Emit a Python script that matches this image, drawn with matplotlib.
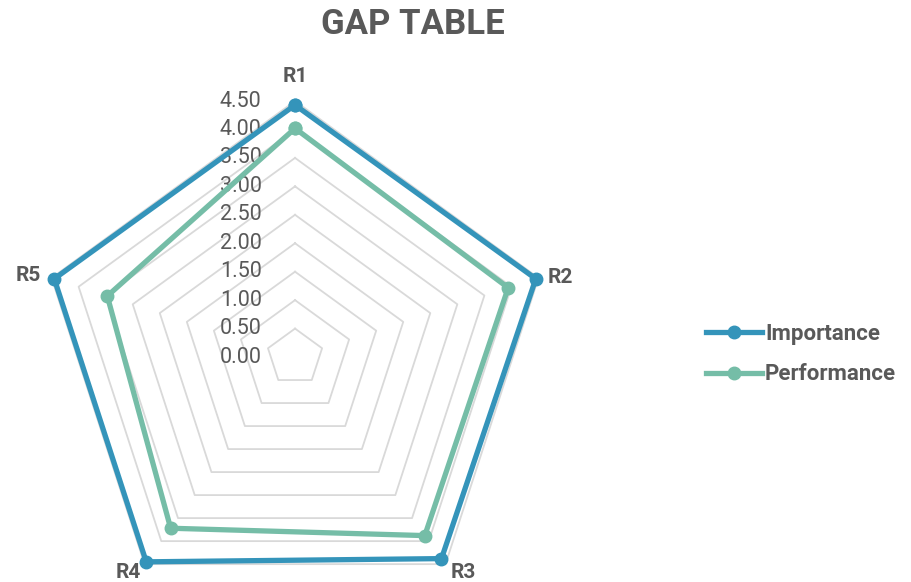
import numpy as np
import matplotlib
matplotlib.use('Agg')
import matplotlib.pyplot as plt

categories = ['R1', 'R2', 'R3', 'R4', 'R5']
importance = [4.43, 4.45, 4.38, 4.45, 4.45]
performance = [4.02, 3.94, 3.88, 3.72, 3.47]
rticks = [0.0, 0.5, 1.0, 1.5, 2.0, 2.5, 3.0, 3.5, 4.0, 4.5]

plt.rcParams['font.family'] = ['Roboto', 'DejaVu Sans']
txt = '#595959'
c_imp = '#3494ba'
c_perf = '#75bda7'

fig = plt.figure(figsize=(9.12, 5.82), dpi=100, facecolor='white')
ax = fig.add_axes([0.0428, -0.0533, 0.5614, 0.8797], projection='polar')
ax.set_theta_offset(np.pi / 2)
ax.set_theta_direction(-1)
ax.set_ylim(0, 4.5)
ax.grid(False)
ax.spines['polar'].set_visible(False)
ax.set_xticks([])
ax.set_yticks([])
ax.patch.set_alpha(0)

n = len(categories)
angles = np.linspace(0, 2 * np.pi, n, endpoint=False)
closed = np.append(angles, angles[0])

# pentagon grid
for r in rticks[1:]:
    ax.plot(closed, [r] * (n + 1), color='#d9d9d9', lw=1.3, zorder=1, clip_on=False)

# tick labels left of R1 axis
for r in rticks:
    ax.annotate(f'{r:.2f}', xy=(0, r), xytext=(-24, 0), textcoords='offset points',
                ha='right', va='center', fontsize=15.5, color=txt, annotation_clip=False)

# category labels, nudged off the outer vertex
offsets = [(0, 18), (15.5, 0), (12.6, -5.8), (-12, -5.8), (-17, 2)]
for a, lab, off in zip(angles, categories, offsets):
    ax.annotate(lab, xy=(a, 4.5), xytext=off, textcoords='offset points',
                ha='center', va='center', fontsize=15, fontweight='bold', color=txt,
                annotation_clip=False)

ax.plot(closed, importance + importance[:1], color=c_imp, lw=3.8, marker='o', ms=9,
        label='Importance', zorder=4, clip_on=False)
ax.plot(closed, performance + performance[:1], color=c_perf, lw=3.8, marker='o', ms=9,
        label='Performance', zorder=3, clip_on=False)

fig.text(413 / 912, 1 - 24 / 582, 'GAP TABLE', ha='center', va='center', fontsize=25,
         fontweight='bold', color=txt)

fig.legend(loc='center left', bbox_to_anchor=(706 / 912, 1 - 354 / 582), frameon=False,
           borderpad=0, borderaxespad=0, handlelength=2.5, handletextpad=0.15,
           labelspacing=0.85, prop={'size': 16, 'weight': 'bold'}, labelcolor=txt)

fig.savefig('out.png', dpi=100, facecolor='white')
